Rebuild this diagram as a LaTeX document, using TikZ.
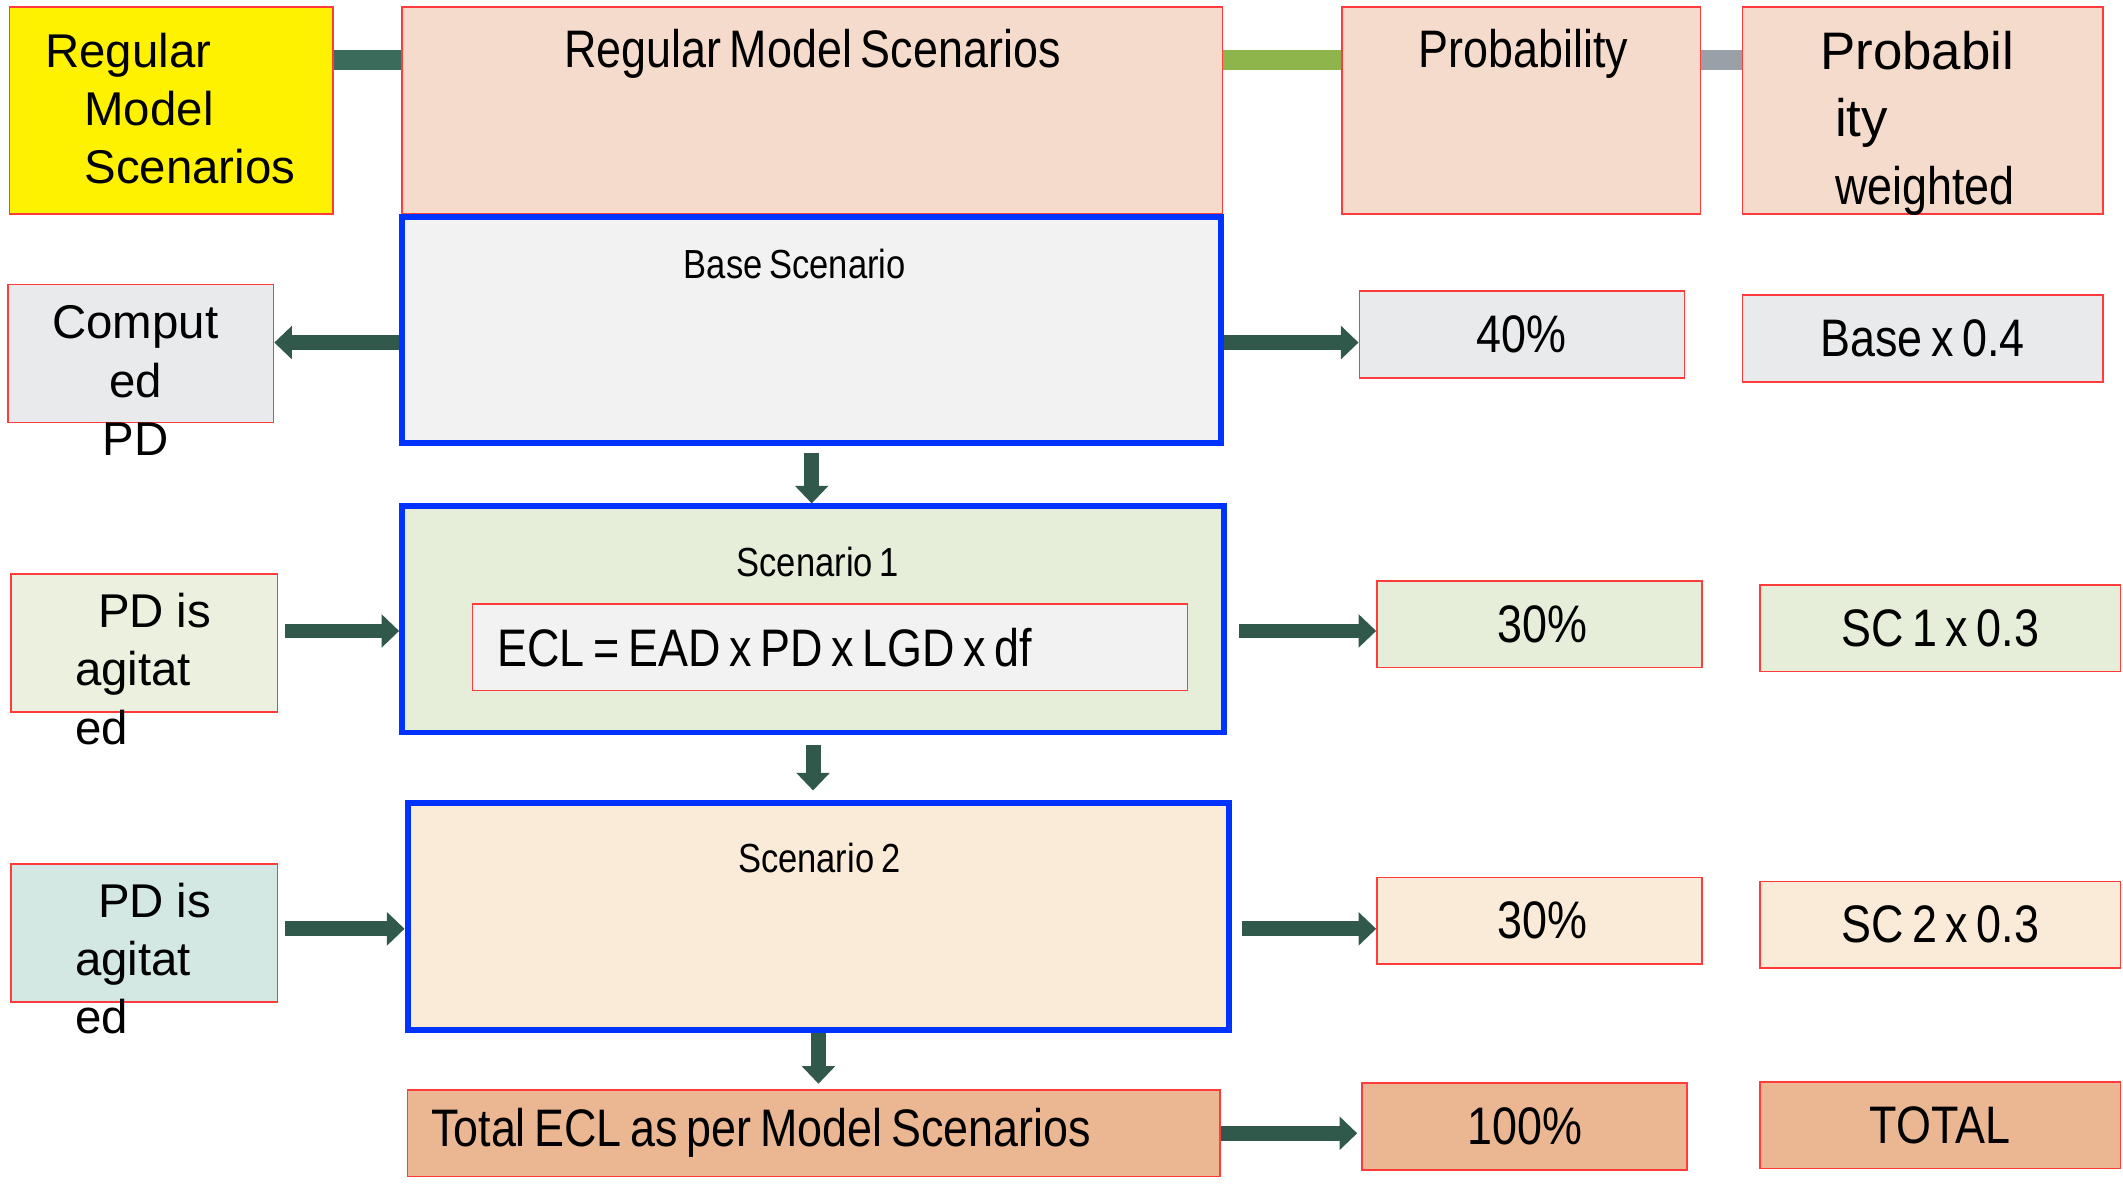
\documentclass[tikz,border=0pt]{standalone}
\usepackage{fontspec}
\setmainfont{Liberation Sans}
\newfontfamily\cnd[FakeStretch=0.85,WordSpace=0.7]{Liberation Sans}
\usetikzlibrary{arrows.meta,fit}

\definecolor{boxred}{HTML}{FF3B3B}
\definecolor{scblue}{HTML}{0033FF}
\definecolor{hdrfill}{HTML}{F4DBCB}
\definecolor{cpdfill}{HTML}{E9EAEC}
\definecolor{basefill}{HTML}{F2F2F2}
\definecolor{sconefill}{HTML}{E6EEDA}
\definecolor{pdonefill}{HTML}{EBF1DE}
\definecolor{sctwofill}{HTML}{FAEBD8}
\definecolor{pdtwofill}{HTML}{D4E8E3}
\definecolor{totfill}{HTML}{EAB792}
\definecolor{arrgreen}{HTML}{30594B}
\definecolor{barone}{HTML}{3B6B5A}
\definecolor{bartwo}{HTML}{8DB54B}
\definecolor{barthree}{HTML}{99A0A8}

\tikzset{
  box/.style={draw=boxred, line width=0.6pt, inner sep=0pt},
  scen/.style={draw=scblue, line width=2.2pt, inner sep=0pt},
  blk/.style={draw=arrgreen, line width=5.5pt, -{Triangle[length=6.5pt,width=12pt]}},
  bar/.style={line width=7.5pt},
  nrm/.style={inner sep=0pt, font=\fontsize{17.5}{21.5}\selectfont},
  big/.style={inner sep=0pt, font=\cnd\fontsize{19.5}{24}\selectfont},
  ttl/.style={inner sep=0pt, font=\cnd\fontsize{15}{18}\selectfont},
}

\begin{document}
\begin{tikzpicture}[x=0.5pt,y=-0.5pt]
\useasboundingbox (0,0) rectangle (1568,874);

% top row
\node[box, fill=yellow, fit={(7,5) (246,158)}] (yel) {};
\node[box, fill=hdrfill, fit={(297,5) (903,158)}] (hdr) {};
\node[box, fill=hdrfill, fit={(991,5) (1256,158)}] (prob) {};
\node[box, fill=hdrfill, fit={(1287,5) (1553,158)}] (pwt) {};

\draw[bar, draw=barone] ([yshift=-20pt]yel.north east) -- ([yshift=-20pt]yel.north east -| hdr.west);
\draw[bar, draw=bartwo] ([yshift=-20pt]hdr.north east) -- ([yshift=-20pt]hdr.north east -| prob.west);
\draw[bar, draw=barthree] ([yshift=-20pt]prob.north east) -- ([yshift=-20pt]prob.north east -| pwt.west);

\node[nrm, anchor=west, align=left] (yelt) at (33,80) {Regular\\\hspace*{14.5pt}Model\\\hspace*{14.5pt}Scenarios};
\node[big] (hdrt) at (600,40) {Regular Model Scenarios};
\node[big] (probt) at (1125,40) {Probability};
\node[inner sep=0pt, anchor=west, align=left, font=\fontsize{19.5}{25}\selectfont] (pwtt) at (1344,91)
  {Probabil\\\hspace*{5.5pt}ity\\\hspace*{5.5pt}{\cnd weighted}};

% scenario boxes
\node[scen, fill=basefill, fit={(297,160) (902,327)}] (base) {};
\node[scen, fill=sconefill, fit={(297,374) (904,541)}] (sc1) {};
\node[scen, fill=sctwofill, fit={(301,593) (908,761)}] (sc2) {};
\node[box, fill=totfill, fit={(301,805) (901,869)}] (tot) {};
\node[box, fill=basefill, fit={(349,446) (877,510)}] (ecl) {};

\node[ttl] (baset) at (587,195) {Base Scenario};
\node[ttl] (sc1t) at (604,415) {Scenario 1};
\node[ttl] (sc2t) at (605,634) {Scenario 2};
\node[inner sep=0pt, anchor=west, font=\cnd\fontsize{19.5}{24}\selectfont] (eclt) at (367,478) {ECL = EAD x PD x LGD x df};
\node[big, anchor=west] (tott) at (318,837) {Total ECL as per Model Scenarios};

% left column
\node[box, fill=cpdfill, fit={(6,210) (202,312)}] (cpd) {};
\node[box, fill=pdonefill, fit={(8,424) (205,526)}] (pd1) {};
\node[box, fill=pdtwofill, fit={(8,638) (205,740)}] (pd2) {};
\node[nrm, align=center] (cpdt) at (100,281) {Comput\\ed\\PD};
\node[nrm, anchor=west, align=left] (pd1t) at (55,494) {\hspace*{8.5pt}PD is\\agitat\\ed};
\node[nrm, anchor=west, align=left] (pd2t) at (55,708) {\hspace*{8.5pt}PD is\\agitat\\ed};

% right columns
\node[box, fill=cpdfill, fit={(1004,215) (1244,279)}] (p40) {};
\node[box, fill=cpdfill, fit={(1287,218) (1553,282)}] (w40) {};
\node[box, fill=sconefill, fit={(1017,429) (1257,493)}] (p30a) {};
\node[box, fill=sconefill, fit={(1300,432) (1566,496)}] (w30a) {};
\node[box, fill=sctwofill, fit={(1017,648) (1257,712)}] (p30b) {};
\node[box, fill=sctwofill, fit={(1300,651) (1566,715)}] (w30b) {};
\node[box, fill=totfill, fit={(1006,800) (1246,864)}] (p100) {};
\node[box, fill=totfill, fit={(1300,799) (1566,863)}] (wtot) {};
\node[big] (p40t) at (p40) {40\%};
\node[big] (w40t) at (w40) {Base x 0.4};
\node[big] (p30at) at ([xshift=1pt]p30a.center) {30\%};
\node[big] (w30at) at (w30a) {SC 1 x 0.3};
\node[big] (p30bt) at ([xshift=1pt]p30b.center) {30\%};
\node[big] (w30bt) at (w30b) {SC 2 x 0.3};
\node[big] (p100t) at (p100) {100\%};
\node[big] (wtott) at (wtot) {TOTAL};

% arrows
\draw[blk] ([yshift=-4.75pt]base.west) -- ([yshift=-4.75pt]base.west -| cpd.east);
\draw[blk] ([yshift=-4.75pt]base.east) -- ([yshift=-4.75pt]base.east -| p40.west);
\draw[blk, shorten <=2.5pt] (base.south) -- (base.south |- sc1.north);
\draw[blk, shorten <=2.5pt] ([yshift=-4.25pt]sc1.west -| pd1.east) -- ([yshift=-4.25pt]sc1.west);
\draw[blk, shorten <=4.5pt] ([yshift=-4.25pt]sc1.east) -- ([yshift=-4.25pt]sc1.east -| p30a.west);
\draw[blk, shorten <=3.5pt, shorten >=3.5pt] (sc1.south) -- (sc1.south |- sc2.north);
\draw[blk, shorten <=2.5pt] ([yshift=-4.5pt]sc2.west -| pd2.east) -- ([yshift=-4.5pt]sc2.west);
\draw[blk, shorten <=3.5pt] ([yshift=-4.5pt]sc2.east) -- ([yshift=-4.5pt]sc2.east -| p30b.west);
\draw[blk, shorten >=2pt] (sc2.south) -- (sc2.south |- tot.north);
\draw[blk, shorten >=1.5pt] (tot.east) -- (tot.east -| p100.west);
\end{tikzpicture}
\end{document}
